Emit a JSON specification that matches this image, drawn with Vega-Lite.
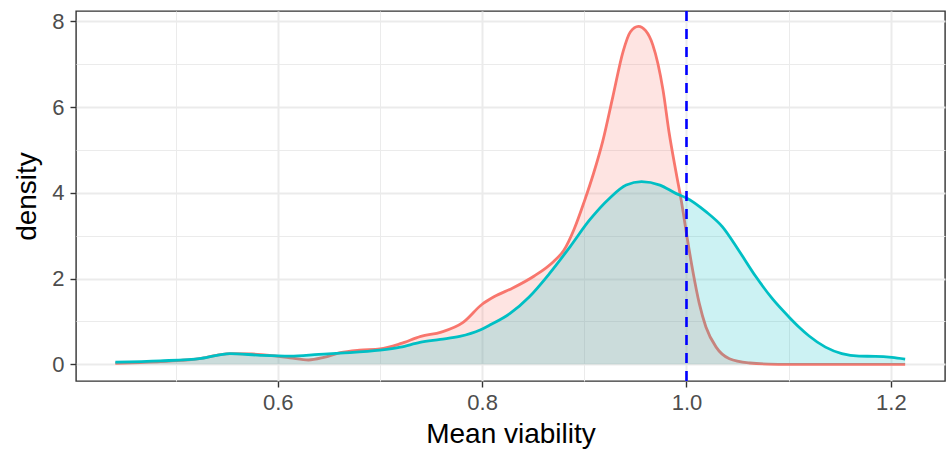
{
  "$schema": "https://vega.github.io/schema/vega-lite/v6.json",
  "autosize": "none",
  "width": 869,
  "height": 370,
  "padding": {"left": 76, "top": 11, "right": 6, "bottom": 74},
  "background": "white",
  "config": {
    "font": "Liberation Sans",
    "view": {"stroke": "#333333", "strokeWidth": 1.4},
    "axis": {
      "domain": false,
      "labelFont": "Liberation Sans",
      "titleFont": "Liberation Sans",
      "labelColor": "#4D4D4D",
      "labelFontSize": 22,
      "titleFontSize": 28,
      "titleFontWeight": "normal",
      "titleColor": "#000000",
      "tickColor": "#333333",
      "tickSize": 6,
      "tickWidth": 1.4,
      "gridColor": "#EBEBEB"
    }
  },
  "datasets": {
    "dens": [
      {"group": "A", "viability": 0.441, "density": 0.02},
      {"group": "A", "viability": 0.465, "density": 0.04},
      {"group": "A", "viability": 0.485, "density": 0.06},
      {"group": "A", "viability": 0.505, "density": 0.09},
      {"group": "A", "viability": 0.525, "density": 0.14},
      {"group": "A", "viability": 0.540, "density": 0.21},
      {"group": "A", "viability": 0.555, "density": 0.25},
      {"group": "A", "viability": 0.575, "density": 0.24},
      {"group": "A", "viability": 0.592, "density": 0.21},
      {"group": "A", "viability": 0.612, "density": 0.15},
      {"group": "A", "viability": 0.630, "density": 0.10},
      {"group": "A", "viability": 0.645, "density": 0.16},
      {"group": "A", "viability": 0.661, "density": 0.27},
      {"group": "A", "viability": 0.680, "density": 0.33},
      {"group": "A", "viability": 0.700, "density": 0.36},
      {"group": "A", "viability": 0.720, "density": 0.48},
      {"group": "A", "viability": 0.740, "density": 0.65},
      {"group": "A", "viability": 0.760, "density": 0.75},
      {"group": "A", "viability": 0.781, "density": 0.97},
      {"group": "A", "viability": 0.800, "density": 1.40},
      {"group": "A", "viability": 0.812, "density": 1.58},
      {"group": "A", "viability": 0.830, "density": 1.78},
      {"group": "A", "viability": 0.851, "density": 2.06},
      {"group": "A", "viability": 0.870, "density": 2.40},
      {"group": "A", "viability": 0.880, "density": 2.66},
      {"group": "A", "viability": 0.890, "density": 3.15},
      {"group": "A", "viability": 0.900, "density": 3.80},
      {"group": "A", "viability": 0.909, "density": 4.45},
      {"group": "A", "viability": 0.918, "density": 5.20},
      {"group": "A", "viability": 0.928, "density": 6.25},
      {"group": "A", "viability": 0.938, "density": 7.30},
      {"group": "A", "viability": 0.945, "density": 7.75},
      {"group": "A", "viability": 0.953, "density": 7.88},
      {"group": "A", "viability": 0.960, "density": 7.78},
      {"group": "A", "viability": 0.967, "density": 7.45},
      {"group": "A", "viability": 0.977, "density": 6.40},
      {"group": "A", "viability": 0.983, "density": 5.40},
      {"group": "A", "viability": 0.990, "density": 4.45},
      {"group": "A", "viability": 0.995, "density": 3.80},
      {"group": "A", "viability": 1.001, "density": 2.90},
      {"group": "A", "viability": 1.006, "density": 2.20},
      {"group": "A", "viability": 1.0125, "density": 1.42},
      {"group": "A", "viability": 1.019, "density": 0.87},
      {"group": "A", "viability": 1.029, "density": 0.40},
      {"group": "A", "viability": 1.042, "density": 0.13},
      {"group": "A", "viability": 1.062, "density": 0.03},
      {"group": "A", "viability": 1.080, "density": 0.005},
      {"group": "A", "viability": 1.100, "density": 0.0},
      {"group": "A", "viability": 1.214, "density": 0.0},
      {"group": "B", "viability": 0.441, "density": 0.05},
      {"group": "B", "viability": 0.485, "density": 0.08},
      {"group": "B", "viability": 0.525, "density": 0.14},
      {"group": "B", "viability": 0.553, "density": 0.25},
      {"group": "B", "viability": 0.583, "density": 0.21},
      {"group": "B", "viability": 0.612, "density": 0.19},
      {"group": "B", "viability": 0.640, "density": 0.23},
      {"group": "B", "viability": 0.661, "density": 0.26},
      {"group": "B", "viability": 0.700, "density": 0.33},
      {"group": "B", "viability": 0.720, "density": 0.40},
      {"group": "B", "viability": 0.739, "density": 0.51},
      {"group": "B", "viability": 0.759, "density": 0.58},
      {"group": "B", "viability": 0.778, "density": 0.65},
      {"group": "B", "viability": 0.798, "density": 0.80},
      {"group": "B", "viability": 0.808, "density": 0.92},
      {"group": "B", "viability": 0.827, "density": 1.18},
      {"group": "B", "viability": 0.846, "density": 1.57},
      {"group": "B", "viability": 0.866, "density": 2.12},
      {"group": "B", "viability": 0.886, "density": 2.74},
      {"group": "B", "viability": 0.905, "density": 3.36},
      {"group": "B", "viability": 0.925, "density": 3.88},
      {"group": "B", "viability": 0.941, "density": 4.18},
      {"group": "B", "viability": 0.956, "density": 4.26},
      {"group": "B", "viability": 0.974, "density": 4.18},
      {"group": "B", "viability": 0.990, "density": 3.98},
      {"group": "B", "viability": 1.000, "density": 3.88},
      {"group": "B", "viability": 1.019, "density": 3.56},
      {"group": "B", "viability": 1.035, "density": 3.21},
      {"group": "B", "viability": 1.051, "density": 2.66},
      {"group": "B", "viability": 1.068, "density": 2.04},
      {"group": "B", "viability": 1.084, "density": 1.53},
      {"group": "B", "viability": 1.100, "density": 1.11},
      {"group": "B", "viability": 1.110, "density": 0.87},
      {"group": "B", "viability": 1.120, "density": 0.66},
      {"group": "B", "viability": 1.136, "density": 0.40},
      {"group": "B", "viability": 1.152, "density": 0.25},
      {"group": "B", "viability": 1.169, "density": 0.19},
      {"group": "B", "viability": 1.185, "density": 0.185},
      {"group": "B", "viability": 1.201, "density": 0.16},
      {"group": "B", "viability": 1.214, "density": 0.12}
    ]
  },
  "data": {"name": "dens"},
  "encoding": {
    "x": {
      "field": "viability",
      "type": "quantitative",
      "title": "Mean viability",
      "scale": {"domain": [0.4025, 1.253], "nice": false, "zero": false},
      "axis": {
        "values": [0.5, 0.6, 0.7, 0.8, 0.9, 1.0, 1.1, 1.2],
        "labelExpr": "round(datum.value*10) % 2 == 0 ? format(datum.value, '.1f') : ''",
        "gridWidth": {"condition": {"test": "round(datum.value*10) % 2 == 1", "value": 1}, "value": 2},
        "tickOpacity": {"condition": {"test": "round(datum.value*10) % 2 == 1", "value": 0}, "value": 1},
        "labelPadding": 5,
        "titlePadding": 7
      }
    },
    "y": {
      "field": "density",
      "type": "quantitative",
      "title": "density",
      "scale": {"domain": [-0.39, 8.24], "nice": false, "zero": false},
      "axis": {
        "values": [0, 1, 2, 3, 4, 5, 6, 7, 8],
        "labelExpr": "datum.value % 2 == 0 ? format(datum.value, 'd') : ''",
        "gridWidth": {"condition": {"test": "datum.value % 2 == 1", "value": 1}, "value": 2},
        "tickOpacity": {"condition": {"test": "datum.value % 2 == 1", "value": 0}, "value": 1},
        "labelPadding": 6,
        "titlePadding": 10
      }
    }
  },
  "layer": [
    {
      "transform": [{"filter": "datum.group == 'A'"}],
      "mark": {"type": "area", "color": "#F8766D", "opacity": 0.2, "interpolate": "monotone"},
      "encoding": {"y2": {"datum": 0}}
    },
    {
      "transform": [{"filter": "datum.group == 'A'"}],
      "mark": {"type": "line", "color": "#F8766D", "strokeWidth": 2.8, "interpolate": "monotone"}
    },
    {
      "transform": [{"filter": "datum.group == 'B'"}],
      "mark": {"type": "area", "color": "#00BFC4", "opacity": 0.2, "interpolate": "monotone"},
      "encoding": {"y2": {"datum": 0}}
    },
    {
      "transform": [{"filter": "datum.group == 'B'"}],
      "mark": {"type": "line", "color": "#00BFC4", "strokeWidth": 2.8, "interpolate": "monotone"}
    },
    {
      "data": {"values": [{"threshold": 1.0}]},
      "mark": {"type": "rule", "color": "#0000FF", "strokeWidth": 2.6, "strokeDash": [10, 8]},
      "encoding": {
        "x": {"field": "threshold", "type": "quantitative"},
        "y": null
      }
    }
  ]
}
